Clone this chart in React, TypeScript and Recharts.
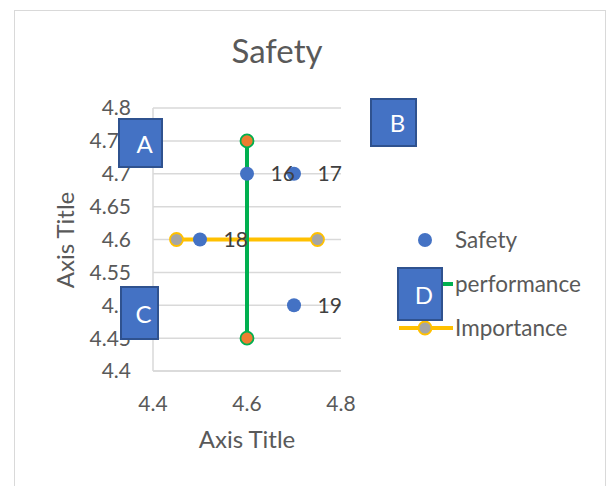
import React from 'react';
import { ScatterChart, Scatter, XAxis, YAxis, CartesianGrid, LabelList } from 'recharts';

const safetyX = [4.6, 4.7, 4.5, 4.7];
const safetyY = [4.7, 4.7, 4.6, 4.5];
const safetyLabels = ['16', '17', '18', '19'];

const performanceX = [4.6, 4.6];
const performanceY = [4.45, 4.75];

const importanceX = [4.45, 4.75];
const importanceY = [4.6, 4.6];

const xTicks = [4.4, 4.6, 4.8];
const yTicks = [4.4, 4.45, 4.5, 4.55, 4.6, 4.65, 4.7, 4.75, 4.8];

const boxes = [
  { text: 'A', left: 118, top: 118, width: 45, height: 50 },
  { text: 'B', left: 370, top: 98, width: 47, height: 49 },
  { text: 'C', left: 120, top: 286, width: 39, height: 54 },
  { text: 'D', left: 397, top: 267, width: 46, height: 54 },
];

const safety = safetyX.map((x, i) => ({ x, y: safetyY[i], label: safetyLabels[i] }));
const performance = performanceX.map((x, i) => ({ x, y: performanceY[i] }));
const importance = importanceX.map((x, i) => ({ x, y: importanceY[i] }));

const FONT = 'Lato, "Open Sans", sans-serif';
const GRID = '#D9D9D9';
const TEXT = '#595959';

const dot = (fill: string, stroke?: string) => (props: any) => (
  <circle cx={props.cx} cy={props.cy} r={stroke ? 6.5 : 7} fill={fill} stroke={stroke || 'none'} strokeWidth={1.8} />
);

const legendItems = [
  { name: 'Safety', line: '', fill: '#4472C4', stroke: '' },
  { name: 'performance', line: '#00B050', fill: '#ED7D31', stroke: '#00B050' },
  { name: 'Importance', line: '#FFC000', fill: '#A5A5A5', stroke: '#FFC000' },
];

const LegendBox = () => (
  <div style={{ position: 'absolute', left: 397, top: 225, width: 214, height: 130, fontFamily: FONT, fontSize: 22.5, color: TEXT }}>
    {legendItems.map((it, i) => (
      <div key={it.name} style={{ position: 'absolute', left: 0, top: i * 44, width: 214, height: 30 }}>
        <svg width={60} height={30} style={{ position: 'absolute', left: 0, top: 0 }}>
          {it.line && <line x1={2} y1={15} x2={56} y2={15} stroke={it.line} strokeWidth={4} />}
          <circle cx={28} cy={15} r={it.stroke ? 6.5 : 7} fill={it.fill} stroke={it.stroke || 'none'} strokeWidth={1.8} />
        </svg>
        <span style={{ position: 'absolute', left: 58, top: 0, lineHeight: '30px' }}>{it.name}</span>
      </div>
    ))}
  </div>
);

export default function App() {
  return (
    <div style={{ position: 'absolute', left: 0, top: 0, width: 611, height: 486, background: '#fff', overflow: 'hidden', fontFamily: FONT }}>
      <div style={{ position: 'absolute', left: 14, top: 10, width: 592, height: 490, border: `1.5px solid ${GRID}`, boxSizing: 'border-box' }} />
      <div style={{ position: 'absolute', left: 0, width: 554, top: 30, textAlign: 'center', fontSize: 33, color: TEXT }}>Safety</div>
      <ScatterChart width={611} height={486} margin={{ top: 108, right: 270, bottom: 85, left: 93 }}>
        <CartesianGrid vertical={false} stroke={GRID} strokeWidth={1.5} />
        <XAxis
          type="number"
          dataKey="x"
          domain={[4.4, 4.8]}
          ticks={xTicks}
          interval={0}
          height={30}
          axisLine={{ stroke: GRID, strokeWidth: 1.5 }}
          tickLine={false}
          tickMargin={19}
          tick={{ fill: TEXT, fontSize: 21, fontFamily: FONT }}
        />
        <YAxis
          type="number"
          dataKey="y"
          domain={[4.4, 4.8]}
          ticks={yTicks}
          interval={0}
          width={60}
          axisLine={{ stroke: GRID, strokeWidth: 1.5 }}
          tickLine={false}
          tickMargin={16}
          tick={{ fill: TEXT, fontSize: 21, fontFamily: FONT }}
        />
        <Scatter
          name="Importance"
          data={importance}
          line={{ stroke: '#FFC000', strokeWidth: 4 }}
          shape={dot('#A5A5A5', '#FFC000')}
          isAnimationActive={false}
        />
        <Scatter
          name="performance"
          data={performance}
          line={{ stroke: '#00B050', strokeWidth: 4 }}
          shape={dot('#ED7D31', '#00B050')}
          isAnimationActive={false}
        />
        <Scatter name="Safety" data={safety} shape={dot('#4472C4')} isAnimationActive={false}>
          <LabelList dataKey="label" position="right" offset={19} fill="#404040" fontSize={21} fontFamily={FONT} />
        </Scatter>
      </ScatterChart>
      <LegendBox />
      <div style={{ position: 'absolute', left: 147, width: 200, top: 424, textAlign: 'center', fontSize: 24, color: TEXT }}>Axis Title</div>
      <div
        style={{
          position: 'absolute',
          left: 64,
          top: 240,
          transform: 'translate(-50%, -50%) rotate(-90deg)',
          fontSize: 24,
          color: TEXT,
          whiteSpace: 'nowrap',
        }}
      >
        Axis Title
      </div>
      {boxes.map((b) => (
        <div
          key={b.text}
          style={{
            position: 'absolute',
            left: b.left,
            top: b.top,
            width: b.width,
            height: b.height,
            background: '#4472C4',
            border: '2px solid #2F528F',
            boxSizing: 'border-box',
            color: '#fff',
            fontSize: 24,
            display: 'flex',
            alignItems: 'center',
            justifyContent: 'center',
            paddingLeft: 8,
          }}
        >
          {b.text}
        </div>
      ))}
    </div>
  );
}
